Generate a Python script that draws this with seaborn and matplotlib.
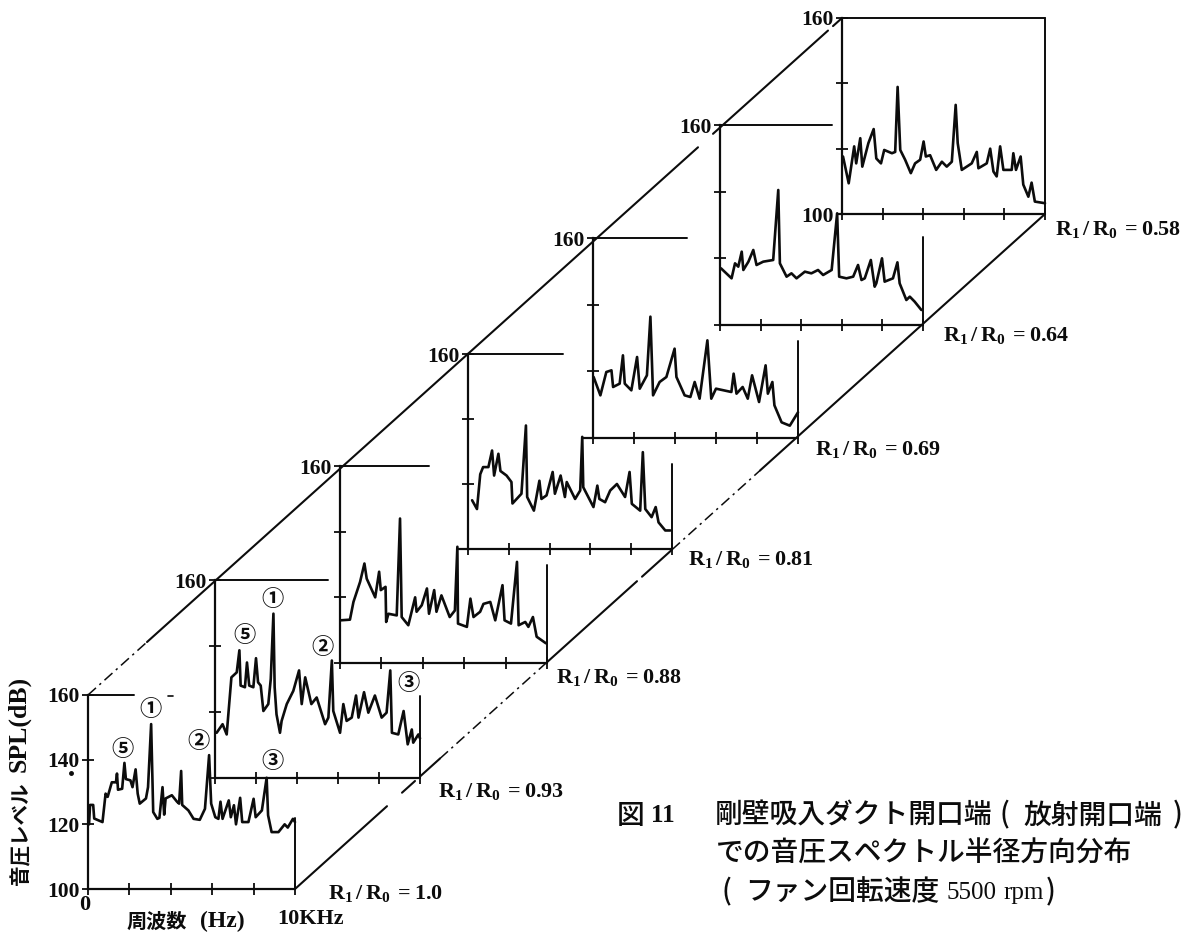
import matplotlib
matplotlib.use("Agg")
import matplotlib.pyplot as plt
import seaborn as sns
import pandas as pd

# ---------- data (kHz, dB) ----------
f_100 = [0.05,0.1,0.25,0.3,0.7,0.85,0.95,1.15,1.35,1.4,1.45,1.65,1.76,1.83,2.05,2.15,2.3,2.4,2.5,2.8,2.9,3.05,3.15,3.35,3.45,3.6,3.68,3.75,4.05,4.3,4.4,4.5,4.55,4.85,5.1,5.4,5.65,5.85,5.95,6.15,6.3,6.4,6.5,6.8,6.9,7.05,7.15,7.35,7.45,7.75,8.0,8.1,8.4,8.63,8.7,8.87,9.2,9.5,9.65,9.9,10]
s_100 = [120,126,126,121.8,120.7,129.5,128.5,133,133,135.7,130.7,131,139,134,133.6,131.5,137,129.5,126.4,128,131.5,151,123.8,121.7,122,131.5,123,128,129,127,126.4,136.5,126,124.3,121.7,121.4,124.8,141.4,126.4,122.2,121.7,127,121.7,127.4,122.2,125.9,120,128.2,120.7,120.7,127.9,122.2,124.3,134.4,122.8,117.6,117.6,120,119,121.7,120.7]

f_093 = [0.08,0.37,0.57,0.8,1.06,1.19,1.25,1.46,1.56,1.67,1.87,2.0,2.1,2.23,2.36,2.6,2.72,2.85,2.91,3.0,3.17,3.25,3.5,3.82,4.1,4.23,4.4,4.7,4.96,5.37,5.53,5.7,5.77,6.1,6.26,6.42,6.67,6.88,7.0,7.27,7.48,7.8,8.13,8.37,8.55,8.63,8.94,9.2,9.4,9.6,9.67,9.92,10]
s_093 = [113.7,116.3,113.2,130.5,132,138.7,128,127.5,135,128,127.5,136.3,129,128,120.3,122.4,130,149.8,127.5,119.3,113.7,117.3,122.4,126.4,132.6,122.4,130.5,122.4,124.4,116.3,118.3,135.6,120.3,113.7,122.4,117.3,118.3,125,118.3,126,119.8,125,118.3,119.8,132.6,113.7,113.2,120.3,110.2,114.7,110.7,113.2,112]

f_088 = [0.03,0.48,0.65,0.97,1.18,1.29,1.7,1.89,1.97,2.2,2.23,2.34,2.74,2.9,2.98,3.3,3.63,3.7,3.95,4.2,4.3,4.55,4.66,4.9,5.3,5.55,5.67,5.7,6.13,6.3,6.45,6.77,6.93,7.26,7.5,7.85,7.95,8.26,8.55,8.63,8.95,9.1,9.32,9.5,9.95]
s_088 = [113,113.2,118.6,124.7,130.3,125.7,120,127.8,122.2,123.2,112.5,115,114.5,144,114,111.5,120,115.6,117.6,122.7,115,122.2,115.6,120.6,114,116,135.4,112,111,119.6,114,115.6,118,118.6,113,123.7,113,112,130.8,111.5,112.5,111,114,108,106]

f_081 = [0.2,0.44,0.6,0.74,1.0,1.18,1.28,1.49,1.59,1.89,2.13,2.18,2.62,2.84,2.9,3.23,3.5,3.6,3.85,4.15,4.26,4.54,4.75,4.84,5.25,5.5,5.6,5.65,6.15,6.34,6.44,6.72,6.97,7.3,7.7,7.92,8.03,8.44,8.57,8.69,9.0,9.2,9.34,9.67,9.92]
s_081 = [115,112.3,123,125.2,125.2,130.3,122.6,129.3,124,122.6,120.6,114,117,138,116,111.8,121,115.4,116.5,123.7,117,122.6,116,120.6,115.4,118,134.5,119,112.9,119.5,115.4,114.4,118,120,116,123.7,113.9,111.8,129.8,112.3,109.8,112.9,108.2,105.7,105.7]

f_069 = [0.03,0.36,0.65,0.9,0.98,1.3,1.46,1.55,1.87,2.15,2.28,2.63,2.8,2.93,3.25,3.58,3.98,4.07,4.47,4.75,4.96,5.2,5.58,5.77,6.0,6.75,6.86,7.0,7.3,7.55,7.76,8.1,8.42,8.53,8.75,8.85,9.2,9.6,10]
s_069 = [118.3,112.8,119.8,120.3,115.3,116.3,124.8,116.3,114.3,124.3,114.8,118.8,136.4,112.8,116.8,118.3,126.8,118.3,112.8,112.3,116.8,111.8,129.3,111.8,114.8,113.8,119.3,113.3,115.3,111.8,118.8,110.8,121.8,113.3,116.8,109.8,104.7,103.7,107.7]

f_064 = [0.05,0.57,0.74,0.9,1.07,1.15,1.4,1.64,1.8,2.13,2.62,2.87,2.95,3.28,3.52,3.77,4.18,4.5,4.83,5.08,5.5,5.77,5.87,6.23,6.56,6.8,6.97,7.13,7.43,7.62,7.7,7.98,8.11,8.52,8.74,8.85,9.18,9.35,9.59,9.92]
s_064 = [117,114,118.5,117.5,122,116.5,119,122.5,118,119,119.5,140.5,118.5,114.5,115.5,114,116,115.5,116.5,115,116.5,133.5,114.5,114,114.5,118,113.5,114,119.5,111.5,112.5,120,113,114,118.8,112.5,107.5,108.5,107,104.5]

f_058 = [0.05,0.33,0.6,0.7,0.9,1.0,1.3,1.56,1.69,1.92,2.08,2.46,2.62,2.74,2.87,3.11,3.39,3.6,3.85,4.02,4.13,4.34,4.64,4.92,5.16,5.41,5.6,5.7,5.9,6.39,6.64,6.72,7.13,7.3,7.46,7.62,7.79,7.95,8.36,8.44,8.57,8.8,8.93,9.18,9.34,9.5,10]
s_058 = [117.6,109.4,120.7,115.5,123.2,114.5,121.7,126,117,115.5,119.6,118.6,119,138.9,119.6,116.6,112.5,115.5,116.6,122.2,117.6,118,113.5,116,114.5,116,133.4,121.7,113.5,115.5,119,114,115.5,120,113,111.5,120.7,113.5,113.5,118.6,113.5,117.6,109,105.3,109.6,103.8,103.3]

ratios = ["1.0", "0.93", "0.88", "0.81", "0.69", "0.64", "0.58"]
freqs = [f_100, f_093, f_088, f_081, f_069, f_064, f_058]
levels = [s_100, s_093, s_088, s_081, s_069, s_064, s_058]
y_ticks = [100, 120, 140, 160]
x_ticks = [0, 2, 4, 6, 8, 10]

# ---------- layout (figure pixels) ----------
W, H = 1189, 938
panel_left = [88, 215, 340, 468, 593, 720, 842]
panel_right = [295, 420, 547, 672, 798, 923, 1045]
panel_top = [695, 580, 466, 354, 238, 125, 18]
panel_bottom = [889, 778, 663, 549, 438, 325, 214]
top_line_end = [2.2, 5.5, 4.3, 4.66, 4.6, 5.5, 10]
right_line_top = [122, 124.7, 129.8, 126.3, 129.2, 126.4, 160]
bottom_start = [0, 0, 0, -0.54, -0.49, 0, -0.25]
label_pos = [(328, 893), (438, 791), (556, 677), (688, 560), (815, 450), (943, 335), (1055, 230)]
harmonics = [("①", 151, 709), ("⑤", 123, 749), ("②", 199, 741), ("③", 273, 762),
             ("①", 273, 600), ("⑤", 245, 635), ("②", 323, 647), ("③", 408, 683)]

sns.set_style("white")
plt.rcParams["font.family"] = ["Liberation Serif", "Noto Sans CJK JP", "DejaVu Sans"]
plt.rcParams["mathtext.fontset"] = "custom"
plt.rcParams["mathtext.bf"] = "Liberation Serif:bold"
plt.rcParams["mathtext.rm"] = "Liberation Serif:bold"

INK = "#0c0c0c"
CJK = "Noto Sans CJK JP"
fig = plt.figure(figsize=(W / 100, H / 100), dpi=100, facecolor="white")

# overlay in pixel coordinates for text and the two connecting diagonals
ov = fig.add_axes([0, 0, 1, 1], zorder=5)
ov.set_xlim(0, W)
ov.set_ylim(H, 0)
ov.axis("off")

for i, r in enumerate(ratios):
    l, rgt, t, b = panel_left[i], panel_right[i], panel_top[i], panel_bottom[i]
    ax = fig.add_axes([l / W, 1 - b / H, (rgt - l) / W, (b - t) / H], zorder=2 + i * 0.01)
    ax.patch.set_visible(False)
    df = pd.DataFrame({"f": freqs[i], "spl": levels[i]})
    sns.lineplot(data=df, x="f", y="spl", ax=ax, color=INK, lw=1.9,
                 estimator=None, sort=False, errorbar=None, clip_on=False)
    ax.set_xlim(0, 10)
    ax.set_ylim(100, 160)
    ax.set_xlabel("")
    ax.set_ylabel("")
    for s in ("top", "right", "bottom"):
        ax.spines[s].set_visible(False)
    ax.spines["left"].set_linewidth(1.6)
    ax.spines["left"].set_color(INK)
    ax.plot([0, top_line_end[i]], [160, 160], color=INK, lw=1.4, clip_on=False)
    ax.plot([10, 10], [100, right_line_top[i]], color=INK, lw=1.4, clip_on=False)
    ax.plot([bottom_start[i], 10], [100, 100], color=INK, lw=1.6, clip_on=False)
    ax.set_xticks(x_ticks)
    ax.set_xticklabels([""] * len(x_ticks))
    ax.set_yticks(y_ticks)
    if i == 0:
        ylabels = ["100", "120", "140", "160"]
    elif i == 6:
        ylabels = ["100", "", "", "160"]
    else:
        ylabels = ["", "", "", "160"]
    ax.set_yticklabels(ylabels, fontsize=15.5, fontweight="bold", color=INK)
    ax.tick_params(axis="both", direction="inout", length=8, width=1.3, color=INK, pad=2,
                   left=True, bottom=True)

# connecting diagonals, drawn between the panel corners with scan gaps
def on_line(x0, y0, x1, y1, xa, xb):
    m = (y1 - y0) / (x1 - x0)
    return [xa, xb], [y0 + m * (xa - x0), y0 + m * (xb - x0)]

up = (panel_left[0], panel_top[0], panel_left[6], panel_top[6])
lo = (panel_right[0], panel_bottom[0], panel_right[6], panel_bottom[6])
up_solid = [(147, 698), (713, 828), (833, 842)]
up_dash = [(88, 147)]
lo_solid = [(295, 387), (402, 415), (420, 440), (547, 637), (642, 672), (760, 1045)]
lo_dash = [(440, 547), (672, 760)]
for x0, x1 in up_solid:
    ov.plot(*on_line(*up, x0, x1), color=INK, lw=1.5)
for x0, x1 in lo_solid:
    ov.plot(*on_line(*lo, x0, x1), color=INK, lw=1.5)
for x0, x1 in up_dash:
    ov.plot(*on_line(*up, x0, x1), color=INK, lw=1.1, ls=(0, (7, 3, 1.5, 3)))
for x0, x1 in lo_dash:
    ov.plot(*on_line(*lo, x0, x1), color=INK, lw=1.1, ls=(0, (7, 3, 1.5, 3)))

# small specks of the printed page
ov.plot([168, 173], [696, 696], color=INK, lw=1.2)
ov.plot([71], [773], "o", color=INK, ms=2.5)

for r, (x, y) in zip(ratios, label_pos):
    ov.text(x, y, r"$\mathbf{R_{1}\,/\,R_{0}\,{=}" + r + "}$", fontsize=15.8, va="center", ha="left", color=INK)

for s, x, y in harmonics:
    ov.text(x, y, s, fontsize=16, family=CJK, fontweight="bold", ha="center", va="center", color=INK)

ov.text(85, 905, "0", fontsize=16, fontweight="bold", ha="center", va="center", color=INK)
ov.text(127, 921, "周波数", fontsize=14.5, fontweight="bold", family=CJK, ha="left", va="center", color=INK)
ov.text(200, 921, "(Hz)", fontsize=17, fontweight="bold", ha="left", va="center", color=INK)
ov.text(277, 919, "10KHz", fontsize=16, fontweight="bold", ha="left", va="center", color=INK)

ov.text(21, 885, "音圧レベル", fontsize=14.8, fontweight="bold", family=CJK,
        rotation=90, ha="center", va="bottom", color=INK)
ov.text(19, 772, "SPL(dB)", fontsize=18.5, fontweight="bold", rotation=90, ha="center", va="bottom", color=INK)

cap = dict(fontsize=20, family=CJK, fontweight="medium", ha="left", va="center", color=INK)
ov.text(617, 815, "図", **cap)
ov.text(651, 815, "11", fontsize=18, fontweight="bold", ha="left", va="center", color=INK)
ov.text(715, 815, "剛壁吸入ダクト開口端", **cap)
ov.text(1000, 815, "(", **cap)
ov.text(1023, 815, "放射開口端", **cap)
ov.text(1173, 815, ")", **cap)
ov.text(716, 853, "での音圧スペクトル半径方向分布", **cap)
ov.text(722, 892, "(", **cap)
ov.text(745, 892, "ファン回転速度", **cap)
ov.text(947, 893, "5500", fontsize=18, ha="left", va="center", color=INK)
ov.text(1003, 893, "rpm", fontsize=18, ha="left", va="center", color=INK)
ov.text(1046, 892, ")", **cap)

fig.savefig("out.png", dpi=100, facecolor="white")
